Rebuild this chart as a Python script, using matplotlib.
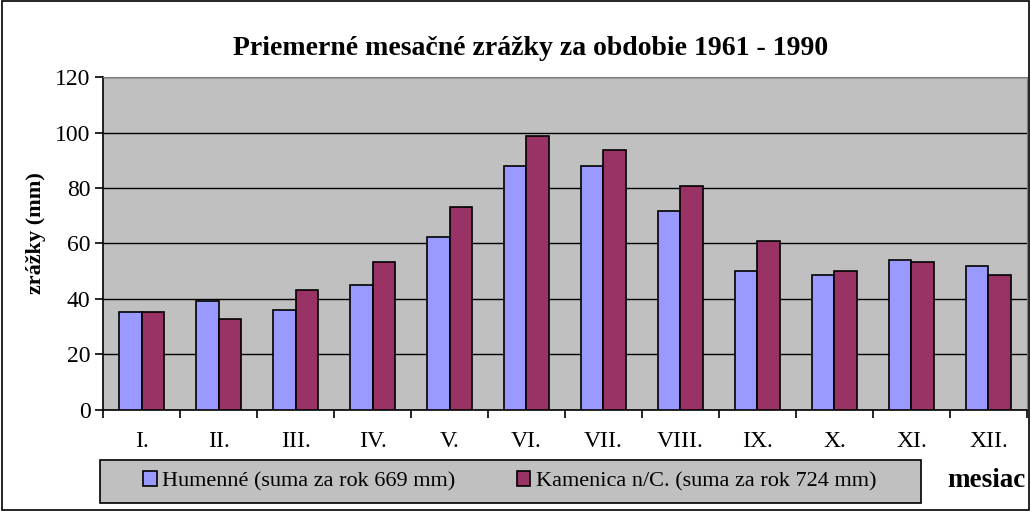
import numpy as np
import matplotlib.pyplot as plt
from matplotlib.patches import Rectangle

plt.rcParams['font.family'] = ['Liberation Serif', 'DejaVu Serif']

months = ["I.", "II.", "III.", "IV.", "V.", "VI.", "VII.", "VIII.", "IX.", "X.", "XI.", "XII."]
humenne = [35.4, 39.2, 36.0, 44.9, 62.3, 87.9, 87.9, 71.8, 50.1, 48.8, 53.9, 52.0]
kamenica = [35.4, 32.8, 43.1, 53.3, 73.3, 98.7, 93.7, 80.8, 60.9, 50.1, 53.3, 48.8]
labels = ["Humenné (suma za rok 669 mm)", "Kamenica n/C. (suma za rok 724 mm)"]

fig = plt.figure(figsize=(10.31, 5.11), dpi=100)
ax = fig.add_axes([0.1, 0.198, 0.896, 0.651])
ax.set_facecolor("#C0C0C0")

x = np.arange(len(months)) + 0.5
w = 0.29
ax.bar(x - w / 2, humenne, w, color="#9999FF", edgecolor="black", linewidth=1.2, label=labels[0], zorder=3)
ax.bar(x + w / 2, kamenica, w, color="#993366", edgecolor="black", linewidth=1.2, label=labels[1], zorder=3)

ax.set_xlim(0, 12)
ax.set_ylim(0, 120)
ax.set_yticks(range(0, 121, 20))
ax.yaxis.grid(True, color="black", linewidth=1.0, zorder=1)
ax.set_axisbelow(True)

ax.set_xticks(range(0, 13))
ax.set_xticklabels([])
ax.set_xticks(x, minor=True)
ax.set_xticklabels(months, minor=True)
ax.tick_params(axis="x", which="minor", length=0, pad=15, labelsize=17)
ax.tick_params(axis="x", which="major", length=6, width=1.2, direction="out")
ax.tick_params(axis="y", length=6, width=1.2, labelsize=17, pad=3)

for s in ["top", "right"]:
    ax.spines[s].set_color("#808080")
for s in ["left", "bottom"]:
    ax.spines[s].set_linewidth(1.2)

ax.set_ylabel("zrážky (mm)", fontsize=16, fontweight="bold")
ax.yaxis.set_label_coords(-0.062, 0.53)
fig.text(0.515, 0.906, "Priemerné mesačné zrážky za obdobie 1961 - 1990",
         ha="center", va="center", fontsize=20, fontweight="bold")
fig.text(0.957, 0.06, "mesiac", ha="center", va="center", fontsize=19.5, fontweight="bold")

# legend box
fig.patches.append(Rectangle((0.097, 0.016), 0.796, 0.084, transform=fig.transFigure,
                             facecolor="#C0C0C0", edgecolor="black", linewidth=1.2))
leg = fig.legend(loc="center left", bbox_to_anchor=(0.139, 0.058), ncol=2, fontsize=16,
                 frameon=False, handlelength=0.6, handleheight=0.6, handletextpad=0.25,
                 columnspacing=2.76, borderaxespad=0, borderpad=0)

fig.patches.append(Rectangle((0.002, 0.002), 0.996, 0.996, transform=fig.transFigure,
                             fill=False, edgecolor="black", linewidth=1.2))

fig.savefig("out.png", dpi=100)
